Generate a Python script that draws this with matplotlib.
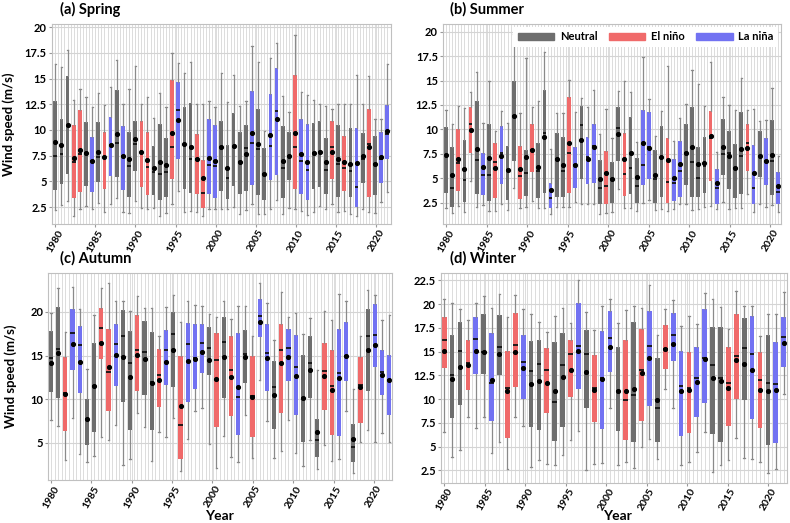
import numpy as np
import matplotlib
matplotlib.use("Agg")
import matplotlib.pyplot as plt
from matplotlib.patches import Patch

plt.rcParams["font.family"] = ["Lato", "DejaVu Sans"]
plt.rcParams["font.weight"] = "bold"

COLORS = {"N": "#6e6e6e", "E": "#f06a6a", "L": "#7272f2"}
LABELS = {"N": "Neutral", "E": "El niño", "L": "La niña"}

# ---- (a) Spring ----
spring_phase = "NNNEE" "NLNEL" "NLNNE" "ENNNE" "LNNEE" "LLNNN" "NNLNN" "LLNNE" "LLNNN" "ENENL" "NENLL"
spring_wlo = [2.2, 2.7, 3.1, 1.6, 2.3, 2.6, 2.3, 2.9, 2.0, 2.8, 3.4, 2.0, 1.9, 3.1, 2.4, 2.3, 2.4, 1.6, 1.9, 2.8,
              4.1, 2.0, 2.1, 2.0, 1.6, 2.3, 2.3, 2.3, 2.3, 2.5, 1.8, 2.2, 2.8, 1.8, 1.8, 2.3, 3.2, 1.8, 2.4, 2.3,
              2.1, 1.7, 2.0, 2.6, 2.3, 2.8, 2.0, 2.1, 1.8, 1.6, 2.3, 2.0, 1.9, 3.0, 4.0]
spring_q1 = [4.2, 4.7, 5.7, 3.4, 4.0, 4.5, 4.0, 4.9, 4.3, 5.5, 5.4, 4.2, 3.5, 6.0, 4.4, 3.7, 3.7, 3.2, 3.5, 5.2,
             7.2, 4.3, 3.9, 3.8, 2.4, 3.8, 3.4, 4.1, 3.3, 4.5, 3.8, 4.1, 4.6, 3.7, 3.2, 5.1, 5.6, 3.4, 5.1, 4.3,
             3.8, 3.2, 4.3, 4.4, 3.8, 5.2, 3.5, 4.1, 3.5, 2.5, 4.8, 3.5, 3.7, 4.8, 7.2]
spring_med = [7.5, 7.7, 10.4, 6.9, 7.7, 7.8, 7.0, 7.4, 7.3, 8.5, 8.7, 7.5, 6.5, 8.6, 7.9, 6.4, 5.9, 5.7, 5.9, 8.3,
              11.9, 8.5, 7.2, 7.2, 3.9, 6.6, 6.5, 8.3, 5.3, 8.3, 6.9, 8.2, 8.7, 8.1, 5.7, 8.4, 11.8, 6.3, 7.5, 8.3,
              7.0, 6.1, 7.8, 7.9, 6.1, 8.3, 6.7, 6.3, 6.0, 4.4, 7.2, 8.6, 6.7, 7.2, 9.6]
spring_q3 = [12.8, 11.1, 15.2, 10.5, 11.9, 10.8, 9.3, 10.8, 9.8, 11.3, 13.9, 10.4, 9.8, 10.9, 10.9, 9.8, 8.4, 10.6, 9.2, 14.9,
             14.7, 12.2, 12.6, 9.6, 7.1, 11.1, 10.5, 10.9, 8.5, 11.6, 9.8, 10.5, 13.8, 12.0, 8.2, 13.5, 16.0, 10.4, 9.8, 15.3,
             11.1, 10.6, 10.7, 10.9, 9.2, 10.9, 10.5, 9.4, 10.2, 10.2, 9.7, 12.0, 9.4, 9.8, 12.4]
spring_whi = [16.4, 16.1, 17.8, 12.9, 14.0, 13.2, 12.2, 13.6, 12.4, 14.2, 16.8, 12.5, 14.0, 16.2, 12.5, 13.2, 11.2, 13.6, 12.2, 17.5,
              16.5, 15.5, 16.6, 12.5, 12.5, 12.8, 12.2, 15.5, 12.7, 15.3, 12.3, 12.8, 18.2, 16.6, 9.9, 17.0, 18.5, 13.3, 11.7, 19.2,
              13.7, 13.4, 12.9, 12.5, 12.3, 12.0, 12.5, 12.5, 12.5, 15.3, 12.5, 15.2, 11.1, 11.1, 16.4]
spring_mean = [8.8, 8.5, 10.5, 7.3, 8.0, 7.8, 7.0, 7.9, 7.4, 8.5, 9.6, 7.5, 7.2, 9.1, 7.9, 7.1, 6.3, 6.9, 6.6, 9.7,
               11.0, 8.6, 8.3, 7.2, 5.3, 7.3, 7.0, 8.3, 6.3, 8.4, 6.9, 7.7, 9.7, 8.6, 5.7, 9.5, 11.1, 7.0, 7.5, 9.7,
               7.7, 6.9, 7.8, 7.9, 6.9, 7.9, 7.2, 6.9, 6.7, 6.8, 7.5, 8.3, 6.7, 7.4, 9.9]

# ---- (b) Summer ----
summer_phase = "NNENE" "NLNEL" "NNENE" "NNLNN" "ELNLL" "NENNE" "NNLLN" "NELLN" "NNNEL" "NNNNE" "LNLNL"
summer_wlo = [1.9, 1.4, 2.1, 1.5, 4.7, 2.0, 2.2, 1.6, 1.6, 2.3, 1.7, 4.0, 1.9, 2.0, 2.7, 1.9, 1.9, 1.3, 2.0, 2.0,
              2.0, 2.6, 2.4, 2.3, 2.3, 1.3, 1.4, 1.5, 3.9, 1.9, 1.9, 1.6, 2.5, 2.8, 1.7, 1.8, 1.6, 1.8, 2.3, 2.4,
              1.7, 1.8, 2.0, 2.1, 1.8, 2.6, 1.8, 1.9, 1.9, 3.4, 1.5, 2.3, 2.0, 2.2, 1.5]
summer_q1 = [3.5, 2.0, 3.7, 2.6, 7.6, 3.4, 3.3, 2.7, 3.0, 4.4, 2.8, 6.8, 2.9, 3.2, 5.6, 3.0, 3.5, 1.9, 3.1, 3.1,
             3.5, 4.0, 4.9, 4.4, 4.5, 2.3, 2.3, 2.5, 6.8, 3.2, 3.4, 2.5, 4.3, 4.9, 2.5, 3.1, 2.5, 2.7, 3.1, 4.3,
             3.1, 3.1, 3.5, 4.7, 2.4, 5.3, 3.9, 3.0, 3.4, 5.7, 2.4, 5.1, 4.3, 3.3, 2.4]
summer_med = [7.4, 4.0, 6.6, 4.8, 10.5, 6.9, 5.3, 5.3, 6.7, 7.6, 5.8, 11.4, 5.2, 5.5, 7.9, 5.7, 9.6, 3.0, 7.0, 5.7,
              7.6, 6.3, 10.4, 7.2, 8.3, 4.0, 4.2, 4.9, 10.1, 5.4, 6.0, 4.2, 6.3, 8.2, 4.9, 7.2, 4.6, 4.5, 5.7, 7.6,
              6.7, 5.0, 6.2, 9.1, 4.0, 7.5, 7.6, 6.0, 7.3, 8.6, 4.0, 7.3, 6.8, 6.8, 3.6]
summer_q3 = [10.2, 8.2, 10.0, 8.9, 12.3, 12.9, 7.6, 10.6, 8.6, 10.3, 8.3, 15.0, 8.3, 7.9, 10.5, 8.6, 14.0, 4.5, 9.6, 9.2,
             13.3, 8.2, 12.4, 9.2, 10.5, 6.9, 7.8, 6.7, 12.3, 9.6, 11.3, 7.1, 12.0, 11.8, 7.9, 10.3, 9.1, 7.0, 8.8, 10.5,
             12.3, 8.2, 9.2, 11.9, 5.9, 11.1, 9.8, 8.5, 11.8, 10.5, 8.4, 9.8, 9.1, 11.0, 5.6]
summer_whi = [12.0, 10.6, 12.4, 12.2, 13.8, 15.9, 10.7, 15.0, 9.8, 11.9, 10.7, 19.8, 11.7, 17.3, 12.3, 12.9, 17.9, 8.0, 11.7, 11.7,
              15.1, 11.8, 13.2, 12.3, 14.0, 9.5, 12.1, 9.1, 13.9, 15.0, 13.8, 8.7, 17.4, 13.1, 9.3, 11.9, 16.5, 8.8, 11.2, 12.6,
              16.1, 14.6, 12.4, 16.9, 7.7, 13.3, 12.5, 12.0, 15.3, 12.0, 12.1, 10.9, 11.0, 14.2, 7.3]
summer_mean = [7.4, 5.3, 7.0, 5.9, 9.9, 8.0, 6.1, 7.1, 6.0, 7.3, 5.8, 11.4, 5.9, 7.2, 7.9, 6.1, 9.2, 3.8, 7.0, 6.3,
               8.6, 6.3, 8.9, 7.0, 8.2, 4.9, 5.5, 4.9, 9.5, 7.0, 7.6, 5.1, 8.6, 8.1, 5.3, 7.2, 6.9, 5.0, 6.4, 7.6,
               8.2, 6.5, 6.6, 9.3, 4.5, 8.2, 7.3, 6.0, 8.0, 8.1, 5.5, 7.3, 6.8, 7.4, 4.2]

# ---- (c) Autumn ----
autumn_phase = "NNELL" "NNEEL" "NNENN" "ELNEL" "LLNEN" "ELNEL" "LNELL" "NNNEE" "LLNEN" "LLL"
autumn_wlo = [7.6, 6.9, 3.0, 7.9, 3.7, 2.8, 3.5, 5.7, 5.3, 7.1, 2.5, 3.1, 8.4, 6.8, 2.9, 6.3, 5.7, 7.8, 1.8, 5.4,
              8.7, 9.0, 4.9, 2.1, 5.8, 3.4, 2.8, 8.2, 3.3, 12.2, 7.5, 3.3, 4.1, 7.6, 3.8, 2.4, 5.3, 2.0, 4.8, 2.9,
              3.2, 8.7, 1.6, 5.1, 6.5, 5.1, 6.1, 5.1]
autumn_q1 = [10.8, 10.2, 6.4, 13.3, 10.7, 4.8, 6.3, 14.6, 8.6, 11.5, 9.7, 6.5, 11.0, 10.5, 6.5, 9.1, 11.6, 11.4, 3.1, 9.7,
             11.2, 13.0, 12.8, 6.8, 10.1, 8.1, 5.9, 11.9, 5.7, 17.1, 11.0, 6.6, 8.4, 12.1, 8.2, 5.1, 10.1, 3.4, 8.8, 5.9,
             5.8, 12.1, 2.8, 7.3, 11.0, 13.7, 10.5, 8.2]
autumn_med = [14.7, 15.8, 10.7, 17.6, 16.2, 7.7, 11.5, 18.2, 13.1, 16.3, 17.3, 14.2, 15.6, 15.4, 12.0, 12.8, 15.7, 17.5, 7.0, 16.3,
              14.7, 16.4, 15.9, 14.5, 16.6, 13.3, 10.3, 15.2, 10.4, 19.5, 15.3, 11.4, 15.7, 15.9, 13.7, 10.1, 14.1, 5.3, 13.2, 11.5,
              13.0, 15.0, 4.5, 11.6, 17.2, 17.4, 13.1, 12.2]
autumn_q3 = [17.8, 20.6, 14.8, 20.3, 18.4, 10.0, 16.5, 20.5, 18.0, 18.6, 20.2, 17.8, 19.6, 19.0, 17.7, 15.8, 17.9, 20.0, 15.0, 18.7,
             18.6, 18.6, 18.3, 17.6, 19.4, 17.2, 17.6, 17.9, 14.9, 21.5, 18.6, 14.4, 18.6, 18.1, 17.4, 15.1, 17.3, 7.7, 16.4, 15.7,
             18.0, 18.8, 7.2, 14.8, 20.3, 20.9, 15.6, 15.1]
autumn_whi = [19.9, 22.8, 17.7, 22.9, 20.3, 13.5, 19.7, 22.8, 23.3, 21.3, 21.3, 20.1, 21.8, 20.5, 20.5, 17.3, 20.6, 21.9, 18.8, 21.2,
              20.8, 20.7, 19.8, 19.4, 21.3, 19.2, 20.7, 20.7, 17.3, 23.3, 21.0, 16.8, 22.3, 19.4, 19.9, 17.5, 19.3, 13.4, 20.1, 19.1,
              22.1, 21.2, 11.2, 17.2, 22.5, 21.9, 19.1, 19.7]
autumn_mean = [14.2, 15.3, 10.6, 16.3, 14.3, 7.7, 11.5, 16.5, 13.7, 15.1, 14.8, 12.6, 15.1, 14.6, 11.9, 12.2, 14.3, 15.7, 9.2, 14.4,
               14.6, 15.4, 14.5, 12.3, 14.8, 12.5, 11.4, 14.8, 10.3, 18.8, 14.7, 10.5, 14.1, 14.8, 12.7, 10.1, 13.3, 6.3, 12.7, 11.1,
               12.4, 14.9, 5.5, 11.4, 15.7, 16.2, 12.8, 12.2]

# ---- (d) Winter ----
winter_phase = "ENNEL" "NLNEE" "LNNEN" "NELNE" "LLNEN" "ELNEL" "LELLN" "NEENL" "ENLL"
winter_wlo = [6.5, 3.9, 4.6, 8.1, 7.0, 8.1, 4.3, 5.5, 2.6, 8.1, 7.2, 2.8, 3.6, 3.2, 3.1, 4.1, 5.7, 6.6, 2.5, 3.2,
              3.3, 9.1, 3.1, 3.4, 2.7, 5.0, 5.8, 3.7, 11.1, 9.1, 3.1, 3.4, 4.4, 6.5, 2.3, 3.1, 3.6, 5.9, 3.8, 3.7,
              3.4, 2.2, 2.6, 10.5]
winter_q1 = [13.3, 8.0, 9.4, 11.0, 12.6, 12.6, 7.7, 12.5, 5.9, 11.3, 10.0, 7.1, 6.7, 8.5, 5.6, 7.1, 10.2, 11.1, 9.1, 7.6,
             6.9, 12.9, 6.6, 5.7, 5.5, 7.7, 9.3, 5.5, 13.2, 14.0, 6.1, 6.4, 8.1, 9.6, 6.3, 5.5, 7.2, 10.0, 9.9, 7.9,
             7.0, 5.2, 5.4, 13.4]
winter_med = [16.2, 12.5, 15.1, 13.8, 16.3, 15.0, 11.7, 15.5, 11.2, 15.7, 13.9, 13.0, 13.7, 13.1, 9.7, 13.6, 14.7, 15.6, 14.7, 11.2,
              12.2, 16.4, 10.8, 9.9, 10.4, 13.1, 15.6, 9.1, 15.3, 16.7, 11.4, 11.2, 12.2, 14.3, 13.6, 12.2, 11.7, 14.5, 15.4, 14.7,
              12.0, 11.7, 11.6, 16.5]
winter_q3 = [18.6, 16.7, 18.1, 16.2, 18.6, 18.9, 17.0, 18.8, 15.1, 19.1, 16.7, 16.1, 16.2, 15.4, 16.0, 17.0, 16.2, 20.1, 17.3, 14.6,
             17.2, 19.3, 15.5, 16.2, 18.1, 17.4, 19.3, 14.3, 17.8, 19.1, 15.1, 15.0, 15.5, 19.5, 17.6, 17.6, 15.5, 19.0, 18.5, 18.7,
             15.0, 16.7, 16.0, 18.6]
winter_whi = [20.5, 20.1, 19.5, 18.3, 20.1, 20.8, 19.6, 21.1, 18.6, 21.0, 19.5, 19.0, 18.1, 17.1, 18.7, 19.6, 18.0, 22.5, 19.2, 17.3,
              19.8, 20.5, 18.0, 19.4, 19.8, 19.6, 22.0, 16.7, 19.5, 20.4, 17.7, 18.7, 17.9, 21.2, 20.5, 19.7, 17.4, 21.4, 19.8, 19.8,
              16.6, 19.0, 19.0, 21.3]
winter_mean = [15.1, 12.1, 13.4, 13.6, 15.1, 15.0, 12.0, 14.7, 10.8, 15.0, 13.3, 11.6, 11.9, 11.7, 10.8, 12.3, 13.1, 15.1, 12.8, 11.0,
               12.1, 15.5, 10.8, 10.8, 11.1, 12.7, 14.3, 9.9, 15.3, 15.8, 10.8, 11.0, 11.8, 14.2, 12.2, 11.9, 11.2, 14.1, 13.7, 13.1,
               11.0, 10.9, 11.0, 15.9]

year_ticks = list(range(1980, 2021, 5))

panels = [
    # title, data, axes rect, last box year, xlim, ylim, yticks
    ("(a) Spring", (spring_phase, spring_wlo, spring_q1, spring_med, spring_q3, spring_whi, spring_mean),
     [0.0654, 0.5717, 0.4295, 0.3824], 2021.4, (1979.55, 2021.86), (0.85, 20.3), np.arange(2.5, 20.1, 2.5)),
    ("(b) Summer", (summer_phase, summer_wlo, summer_q1, summer_med, summer_q3, summer_whi, summer_mean),
     [0.5604, 0.5717, 0.4278, 0.3824], 2021.0, (1979.59, 2021.3), (0.3, 20.8), np.arange(2.5, 20.1, 2.5)),
    ("(c) Autumn", (autumn_phase, autumn_wlo, autumn_q1, autumn_med, autumn_q3, autumn_whi, autumn_mean),
     [0.0611, 0.0822, 0.4347, 0.3964], 2021.9, (1979.67, 2022.2), (0.75, 24.5), [5, 10, 15, 20]),
    ("(d) Winter", (winter_phase, winter_wlo, winter_q1, winter_med, winter_q3, winter_whi, winter_mean),
     [0.5578, 0.0771, 0.4384, 0.4015], 2021.9, (1979.56, 2022.31), (1.2, 23.3), np.arange(2.5, 22.6, 2.5)),
]

fig = plt.figure(figsize=(7.9, 5.23), dpi=100)
axes = []
for title, (phase, wlo, q1, med, q3, whi, mean), rect, x_end, xlim, ylim, yticks in panels:
    ax = fig.add_axes(rect)
    n = len(phase)
    pos = np.linspace(1980, x_end, n)
    step = pos[1] - pos[0]
    w = 0.6 * step
    stats = [dict(whislo=a, q1=b, med=c, q3=d, whishi=e, mean=f, fliers=[])
             for a, b, c, d, e, f in zip(wlo, q1, med, q3, whi, mean)]
    bp = ax.bxp(stats, positions=pos, widths=w, capwidths=w * 0.35, patch_artist=True,
                showmeans=True, showfliers=False, manage_ticks=False,
                boxprops=dict(linewidth=0),
                whiskerprops=dict(color="#8a8a8a", linewidth=0.9),
                capprops=dict(color="#8a8a8a", linewidth=0.9),
                medianprops=dict(color="#111111", linewidth=1.3),
                meanprops=dict(marker="o", markerfacecolor="black", markeredgecolor="black", markersize=2.7))
    for patch, p in zip(bp["boxes"], phase):
        patch.set_facecolor(COLORS[p])
        patch.set_edgecolor(COLORS[p])

    ax.set_xlim(*xlim)
    ax.set_ylim(*ylim)
    ax.set_yticks(yticks)
    ax.set_yticklabels([f"{v:g}" for v in yticks], fontsize=8, fontweight="bold")
    ax.set_xticks(year_ticks)
    ax.set_xticklabels([str(y) for y in year_ticks], rotation=60, ha="center", fontsize=7.5, fontweight="bold")
    ax.set_xticks(np.concatenate([pos, pos[:-1] + step / 2]), minor=True)
    ax.grid(True, which="both", axis="x", color="#dcdcdc", linewidth=0.7)
    ax.grid(True, which="major", axis="y", color="#d4d4d4", linewidth=0.8)
    ax.set_axisbelow(True)
    ax.tick_params(axis="both", which="major", length=2, color="#999999", pad=1.5)
    ax.tick_params(axis="x", which="major", pad=1)
    ax.tick_params(axis="x", which="minor", length=0)
    for s in ax.spines.values():
        s.set_color("#c0c0c0")
    axes.append(ax)

# panel titles
fig.text(60 / 790, 1 - 9 / 523, "(a) Spring", fontsize=10.5, fontweight="bold", va="center")
fig.text(450 / 790, 1 - 9 / 523, "(b) Summer", fontsize=10.5, fontweight="bold", va="center")
fig.text(60 / 790, 1 - 258 / 523, "(c) Autumn", fontsize=10.5, fontweight="bold", va="center")
fig.text(450 / 790, 1 - 258 / 523, "(d) Winter", fontsize=10.5, fontweight="bold", va="center")

fig.text(9 / 790, 1 - 124 / 523, "Wind speed (m/s)", rotation=90, fontsize=9.5, fontweight="bold", va="center", ha="center")
fig.text(11 / 790, 1 - 376 / 523, "Wind speed (m/s)", rotation=90, fontsize=9.5, fontweight="bold", va="center", ha="center")
fig.text(219 / 790, 1 - 516 / 523, "Year", fontsize=10, fontweight="bold", va="center", ha="center")
fig.text(617 / 790, 1 - 516 / 523, "Year", fontsize=10, fontweight="bold", va="center", ha="center")

handles = [Patch(facecolor=COLORS[k], edgecolor=COLORS[k], label=LABELS[k]) for k in ["N", "E", "L"]]
leg = axes[1].legend(handles=handles, loc="upper right", ncol=3, prop=dict(weight="bold", size=8),
                     handlelength=3.3, handleheight=0.55, handletextpad=0.5, columnspacing=1.0,
                     borderaxespad=0.25, frameon=True, fancybox=False, framealpha=1,
                     facecolor="white", edgecolor="none")

fig.savefig("out.png", dpi=100)
